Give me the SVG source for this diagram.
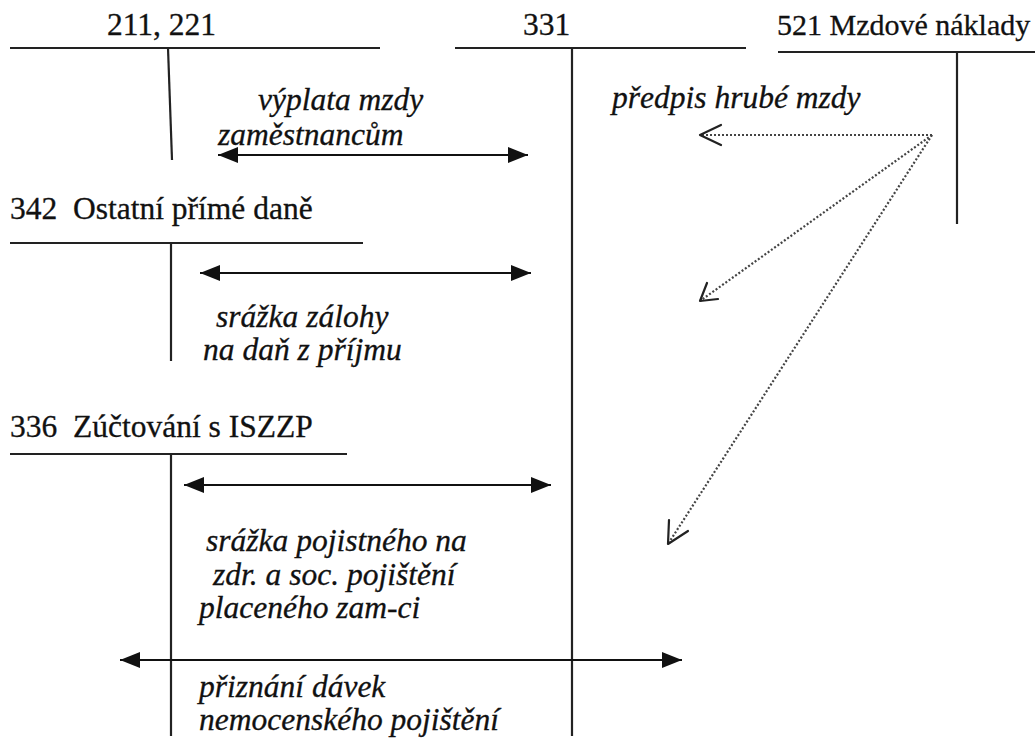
<svg xmlns="http://www.w3.org/2000/svg" width="1035" height="740" viewBox="0 0 1035 740">
  <style>
    .acct { font-family: "Liberation Serif", Tinos, "Times New Roman", "Noto Serif", serif; font-size: 31.5px; fill: #111; stroke: #111; stroke-width: 0.3; }
    .note { font-family: "Liberation Serif", Tinos, "Times New Roman", "Noto Serif", serif; font-size: 31.5px; font-style: italic; fill: #111; stroke: #111; stroke-width: 0.3; }
    .tline { stroke: #222; stroke-width: 2.2; fill: none; }
    .flow { stroke: #111; stroke-width: 2.2; fill: none; marker-start: url(#tipL); marker-end: url(#tipR); }
    .dot { stroke: #444; stroke-width: 2.2; stroke-dasharray: 2 2; fill: none; }
    .chev { stroke: #222; stroke-width: 2.2; fill: none; stroke-linecap: round; stroke-linejoin: round; }
  </style>
  <defs>
    <marker id="tipR" viewBox="0 0 20 16" refX="20" refY="8" markerWidth="20" markerHeight="16" markerUnits="userSpaceOnUse" orient="auto">
      <path d="M0,0 L20,8 L0,16 Z" fill="#111"/>
    </marker>
    <marker id="tipL" viewBox="0 0 20 16" refX="0" refY="8" markerWidth="20" markerHeight="16" markerUnits="userSpaceOnUse" orient="auto">
      <path d="M20,0 L0,8 L20,16 Z" fill="#111"/>
    </marker>
  </defs>
  <rect width="1035" height="740" fill="#fff"/>

  <!-- T-account 211, 221 -->
  <g id="acct-211">
    <text class="acct" x="107" y="35">211, 221</text>
    <line class="tline" x1="10" y1="48" x2="380" y2="48"/>
    <line class="tline" x1="168" y1="48" x2="172" y2="160"/>
  </g>

  <!-- T-account 331 -->
  <g id="acct-331">
    <text class="acct" x="523" y="35">331</text>
    <line class="tline" x1="455" y1="48" x2="746" y2="48"/>
    <line class="tline" x1="572" y1="48" x2="572" y2="736"/>
  </g>

  <!-- T-account 521 -->
  <g id="acct-521">
    <text class="acct" x="777" y="35" style="font-size:30px">521 Mzdové náklady</text>
    <line class="tline" x1="778" y1="52" x2="1035" y2="52"/>
    <line class="tline" x1="957" y1="52" x2="957" y2="224"/>
  </g>

  <!-- T-account 342 -->
  <g id="acct-342">
    <text class="acct" x="10" y="219" xml:space="preserve">342  Ostatní přímé daně</text>
    <line class="tline" x1="10" y1="243" x2="363" y2="243"/>
    <line class="tline" x1="171" y1="243" x2="171" y2="361"/>
  </g>

  <!-- T-account 336 -->
  <g id="acct-336">
    <text class="acct" x="10" y="437" xml:space="preserve">336  Zúčtování s ISZZP</text>
    <line class="tline" x1="10" y1="454" x2="347" y2="454"/>
    <line class="tline" x1="171" y1="454" x2="171" y2="736"/>
  </g>

  <!-- postings -->
  <g id="connectors">
    <line class="flow" x1="218" y1="155" x2="528" y2="155"/>
    <line class="flow" x1="200" y1="273" x2="531" y2="273"/>
    <line class="flow" x1="184" y1="485" x2="551" y2="485"/>
    <line class="flow" x1="120" y1="660" x2="682" y2="660"/>

    <line class="dot" x1="932" y1="135" x2="701" y2="135"/>
    <line class="dot" x1="932" y1="135" x2="700" y2="301"/>
    <line class="dot" x1="932" y1="135" x2="668" y2="544"/>
    <polyline class="chev" points="721,125 700,135 721,145"/>
    <polyline class="chev" points="707,283 700,301 718,299"/>
    <polyline class="chev" points="669,520 668,544 688,531"/>
  </g>

  <!-- posting labels -->
  <g id="labels">
    <text class="note" x="258" y="110">výplata mzdy</text>
    <text class="note" x="218" y="145">zaměstnancům</text>
    <text class="note" x="612" y="108">předpis hrubé mzdy</text>
    <text class="note" x="216" y="327">srážka zálohy</text>
    <text class="note" x="203" y="360">na daň z příjmu</text>
    <text class="note" x="206" y="551">srážka pojistného na</text>
    <text class="note" x="213" y="585">zdr. a soc. pojištění</text>
    <text class="note" x="199" y="618">placeného zam-ci</text>
    <text class="note" x="199" y="697">přiznání dávek</text>
    <text class="note" x="199" y="730">nemocenského pojištění</text>
  </g>
</svg>
